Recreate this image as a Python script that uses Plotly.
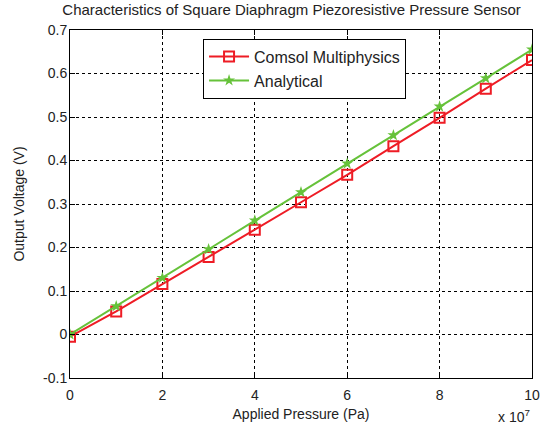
import plotly.graph_objects as go

pressure = [0, 1, 2, 3, 4, 5, 6, 7, 8, 9, 10]  # x 10^7 Pa
comsol = [-0.005, 0.053, 0.116, 0.178, 0.241, 0.304, 0.367, 0.433, 0.498, 0.565, 0.631]
analytical = [0.0, 0.065, 0.130, 0.196, 0.262, 0.327, 0.393, 0.458, 0.524, 0.589, 0.655]
xticks = [0, 2, 4, 6, 8, 10]
yticks = [-0.1, 0, 0.1, 0.2, 0.3, 0.4, 0.5, 0.6, 0.7]
yticktext = ["-0.1", "0", "0.1", "0.2", "0.3", "0.4", "0.5", "0.6", "0.7"]

FONT = "Liberation Sans, Arial, sans-serif"
fig = go.Figure()
fig.add_trace(go.Scatter(
    x=pressure, y=comsol, name="Comsol Multiphysics", mode="lines+markers",
    line=dict(color="#ee1c25", width=2),
    marker=dict(symbol="square-open", size=10, color="#ee1c25", line=dict(width=2)),
))
fig.add_trace(go.Scatter(
    x=pressure, y=analytical, name="Analytical", mode="lines+markers",
    line=dict(color="#66c23a", width=2),
    marker=dict(symbol="star", size=9, color="#66c23a"),
))

axis_common = dict(
    showline=True, linecolor="black", linewidth=1, mirror="ticks",
    ticks="inside", ticklen=5, tickcolor="black", automargin=False,
    showgrid=True, gridcolor="black", gridwidth=1, griddash="3px,3px",
    zeroline=False, tickfont=dict(family=FONT, size=14, color="#222"),
)
fig.update_xaxes(range=[0, 10], tickvals=xticks, ticklabelstandoff=4, **axis_common,
                 title=dict(text="Applied Pressure (Pa)", font=dict(family=FONT, size=14, color="#222"), standoff=7))
fig.update_yaxes(range=[-0.1, 0.7], tickvals=yticks, ticktext=yticktext, ticklabelstandoff=-1, **axis_common,
                 title=dict(text="Output Voltage (V)", font=dict(family=FONT, size=14, color="#222"), standoff=15))

fig.update_layout(
    width=540, height=431,
    margin=dict(l=70, r=8, t=30, b=53),
    paper_bgcolor="white", plot_bgcolor="white",
    title=dict(text="Characteristics of Square Diaphragm Piezoresistive Pressure Sensor",
               x=0.54, xanchor="center", y=0.99, yanchor="top",
               font=dict(family=FONT, size=15, color="#222")),
    legend=dict(x=0.288, y=0.975, xanchor="left", yanchor="top",
                bgcolor="white", bordercolor="black", borderwidth=1,
                font=dict(family=FONT, size=16, color="#222"),
                itemwidth=40, tracegroupgap=0),
    showlegend=True,
)
fig.add_annotation(text="x 10<sup>7</sup>", xref="paper", yref="paper", x=1.0, y=-0.11,
                   xanchor="right", yanchor="middle", showarrow=False,
                   font=dict(family=FONT, size=14, color="#222"))
fig.write_html("out.html")
